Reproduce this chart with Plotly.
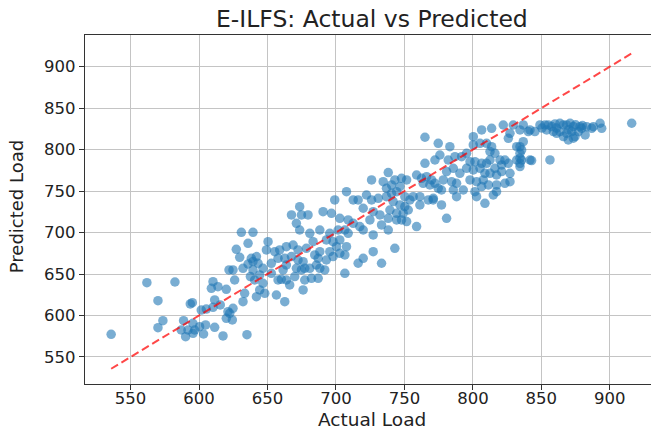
import plotly.graph_objects as go

# Actual vs predicted load values
actual_load = [
    535.8, 561.9, 582.4, 570.0, 573.6, 570.0, 588.7, 595.1, 593.6, 595.5, 596.8, 590.2, 587.0, 604.8,
    611.4, 617.5, 603.3, 610.2, 609.0, 613.8, 619.9, 611.4, 610.2, 605.3, 615.5, 601.6, 621.1, 619.9,
    621.9, 591.9, 600.4, 624.3, 626.0, 635.0, 595.6,
    # region 630-700
    630.9, 639.4, 635.8, 627.2, 650.4, 629.7, 638.2, 641.9, 639.4, 635.8, 643.1, 624.8, 632.1, 639.4,
    637.5, 644.3, 640.6, 646.7, 652.8, 655.3, 649.2, 658.9, 657.7, 662.6, 661.4, 663.8, 660.1, 663.8,
    666.2, 646.7, 644.3, 641.9, 648.0, 656.5, 662.6, 633.3, 632.1, 624.8, 622.4, 676.0, 682.1, 687.0,
    677.2, 676.0, 672.3, 671.1, 677.2, 680.9, 685.7, 688.2, 691.8, 684.5, 688.2, 695.5, 678.4, 683.3,
    688.2, 695.5, 697.9, 693.0, 680.9, 673.5, 671.1, 674.8, 679.6, 667.5, 673.5, 690.6, 696.7, 699.1,
    687.0, 693.0, 663.8, 668.7, 672.3, 667.5, 652.8, 657.7, 669.9, 674.8,
    # region 700-780
    765.0, 774.7, 765.0, 772.3, 738.2, 726.0, 734.5, 743.0, 747.9, 751.6, 758.9, 762.5, 766.2, 769.8,
    763.7, 768.6, 772.3, 774.7, 707.7, 722.3, 712.6, 716.2, 726.0, 730.9, 736.9, 740.6, 744.3, 736.9,
    740.6, 746.7, 750.3, 754.0, 750.3, 752.8, 749.1, 744.3, 746.7, 741.8, 756.4, 761.3, 767.4, 771.1,
    761.3, 719.9, 727.2, 732.1, 738.2, 739.4, 744.3, 747.9, 751.6, 758.9, 702.8, 708.9, 712.6, 717.4,
    719.9, 724.8, 733.3, 706.5, 708.9, 702.8, 707.7, 702.8, 706.5, 727.2, 738.2, 743.0, 727.2, 719.9,
    716.2, 733.3, 706.5, 701.6, 697.9, 700.4,
    # region 780-845
    806.4, 813.7, 822.2, 829.5, 834.4, 825.9, 836.8, 834.4, 840.5, 800.3, 800.3, 805.2, 810.0, 813.7,
    812.5, 816.1, 819.8, 823.4, 821.0, 825.9, 832.0, 834.4, 832.0, 835.6, 841.7, 834.4, 827.1, 783.2,
    775.9, 782.0, 786.9, 791.8, 795.4, 797.9, 801.5, 806.4, 810.0, 812.5, 780.8, 785.7, 790.5, 795.4,
    800.3, 805.2, 808.8, 812.5, 816.1, 817.3, 821.0, 778.4, 784.5, 788.1, 797.9, 802.7, 807.6, 806.4,
    811.3, 817.3, 823.4, 827.1, 817.3, 814.9, 808.8, 777.1, 788.1, 793.0, 801.5, 802.7, 771.0, 777.1,
    780.8, 785.7, 827.1,
    # region 835-920
    836.8, 841.7, 845.3, 852.7, 855.1, 857.6, 853.9, 858.8, 861.2, 863.6, 866.1, 868.5, 871.0, 873.4,
    872.2, 868.5, 869.7, 874.6, 877.1, 879.5, 882.0, 886.8, 892.9, 894.1, 916.0, 835.6, 834.4, 842.9,
    856.3, 834.4, 849.0, 860.0, 863.6, 878.3, 883.1, 888.0, 866.1, 861.0, 875.0, 870.0, 850.5, 873.4,
    880.0,
]

predicted_load = [
    577.3, 639.6, 640.4, 617.9, 593.8, 585.3, 593.8, 615.5, 613.9, 590.6, 582.5, 574.5, 582.5, 588.6,
    585.7, 575.3, 577.7, 640.8, 632.8, 634.8, 631.6, 618.7, 609.9, 607.8, 612.7, 606.6, 604.6, 596.6,
    654.9, 582.5, 586.5, 594.6, 642.8, 576.9, 578.5,
    # region 630-700
    700.3, 700.3, 687.0, 679.8, 689.0, 670.2, 669.0, 671.0, 665.0, 662.1, 662.9, 654.9, 656.9, 654.9,
    646.9, 648.9, 642.8, 656.9, 662.9, 677.0, 679.0, 679.0, 669.0, 669.0, 654.9, 660.9, 643.6, 642.8,
    636.8, 638.8, 630.8, 622.7, 626.8, 624.7, 616.7, 626.8, 616.7, 608.7, 602.6, 630.8, 644.8, 644.8,
    642.8, 664.9, 666.9, 656.9, 656.9, 656.9, 660.9, 656.9, 654.9, 673.0, 677.0, 677.0, 681.0, 689.0,
    703.1, 699.1, 689.0, 691.1, 699.1, 703.1, 711.2, 721.2, 721.2, 721.2, 731.2, 725.2, 723.2, 739.3,
    669.0, 666.9, 683.0, 685.0, 679.0, 671.0, 650.9, 642.8, 646.9, 654.9,
    # region 700-780
    814.9, 807.6, 783.5, 787.5, 772.3, 763.4, 761.4, 763.4, 765.4, 763.4, 769.4, 765.4, 767.4, 763.4,
    759.4, 757.4, 759.4, 753.4, 749.3, 745.3, 739.3, 739.3, 739.3, 741.3, 743.3, 747.3, 749.3, 753.4,
    757.4, 755.4, 743.3, 739.3, 731.3, 727.2, 723.2, 723.2, 733.3, 737.3, 743.3, 743.3, 739.3, 741.3,
    733.3, 729.3, 725.2, 721.2, 717.2, 727.2, 715.2, 715.2, 713.2, 707.2, 717.2, 715.2, 711.2, 707.2,
    703.1, 715.2, 709.2, 703.1, 699.1, 691.1, 683.0, 675.0, 673.0, 697.1, 703.1, 681.0, 677.0, 669.0,
    663.0, 663.0, 650.9, 703.1, 671.0, 683.0,
    # region 780-845
    823.7, 825.7, 829.7, 829.7, 823.7, 813.6, 809.6, 803.6, 821.7, 815.6, 805.6, 807.6, 807.6, 803.6,
    797.6, 795.6, 787.5, 787.5, 781.5, 783.5, 803.6, 795.6, 787.5, 787.5, 787.5, 779.5, 771.4, 803.6,
    793.5, 787.5, 791.5, 791.5, 795.6, 785.5, 785.5, 783.5, 783.5, 787.5, 773.5, 777.5, 771.4, 777.5,
    775.5, 777.5, 771.4, 771.4, 777.5, 769.4, 773.5, 763.4, 761.4, 759.4, 763.4, 761.4, 763.4, 755.4,
    757.4, 757.4, 759.4, 761.4, 749.3, 745.3, 735.3, 751.3, 743.3, 751.3, 749.3, 743.3, 739.3, 733.3,
    717.2, 751.3, 819.7,
    # region 835-920
    829.8, 823.7, 821.7, 829.8, 829.8, 827.8, 823.7, 821.7, 819.7, 821.7, 829.8, 829.8, 831.8, 827.8,
    821.7, 819.7, 811.7, 815.7, 821.7, 825.7, 817.7, 825.7, 831.8, 825.7, 831.8, 799.6, 789.6, 786.8,
    787.6, 783.5, 829.8, 831.0, 831.8, 827.7, 827.7, 827.7, 815.7, 826.0, 830.0, 824.0, 826.0, 813.7,
    829.0,
]

tick_values = [550, 600, 650, 700, 750, 800, 850, 900]
title_text = "E-ILFS: Actual vs Predicted"
x_label = "Actual Load"
y_label = "Predicted Load"

FONT = "DejaVu Sans"
lo = min(actual_load)
hi = max(actual_load)

fig = go.Figure()
fig.add_trace(go.Scatter(
    x=actual_load, y=predicted_load, mode="markers",
    marker=dict(color="#1f77b4", size=9.5, opacity=0.6, line=dict(width=0)),
    showlegend=False, hoverinfo="skip",
))
fig.add_trace(go.Scatter(
    x=[lo, hi], y=[lo, hi], mode="lines",
    line=dict(color="rgba(255,0,0,0.72)", width=2, dash="8px,4px"),
    showlegend=False, hoverinfo="skip",
))

axis_common = dict(
    tickvals=tick_values, ticktext=[str(v) for v in tick_values],
    showgrid=True, gridcolor="#c4c4c4", gridwidth=1,
    zeroline=False, showline=True, linecolor="#333333", linewidth=1.2,
    ticks="outside", ticklen=5, tickwidth=1, tickcolor="#333333",
    tickfont=dict(family=FONT, size=16.5, color="#222222"),
)

fig.update_layout(
    width=651, height=431,
    margin=dict(l=85, r=0, t=35, b=47),
    paper_bgcolor="white", plot_bgcolor="white",
    xaxis=dict(range=[516.7, 930.1], mirror=True, ticklabelstandoff=-6, **axis_common),
    yaxis=dict(range=[517.4, 938.2], mirror=False, **axis_common),
    annotations=[
        dict(text=title_text, xref="paper", yref="paper", x=0.5067, y=1.0, yshift=0,
             xanchor="center", yanchor="bottom", showarrow=False,
             font=dict(family=FONT, size=23.5, color="#222222")),
        dict(text=x_label, xref="paper", yref="paper", x=0.5067, y=0, yshift=-24,
             xanchor="center", yanchor="top", showarrow=False, borderpad=0,
             font=dict(family=FONT, size=18.5, color="#222222")),
        dict(text=y_label, xref="paper", yref="paper", x=0, xshift=-56, y=0.508,
             xanchor="right", yanchor="middle", textangle=-90, showarrow=False,
             font=dict(family=FONT, size=18, color="#222222")),
    ],
)

fig.write_html("out.html")
